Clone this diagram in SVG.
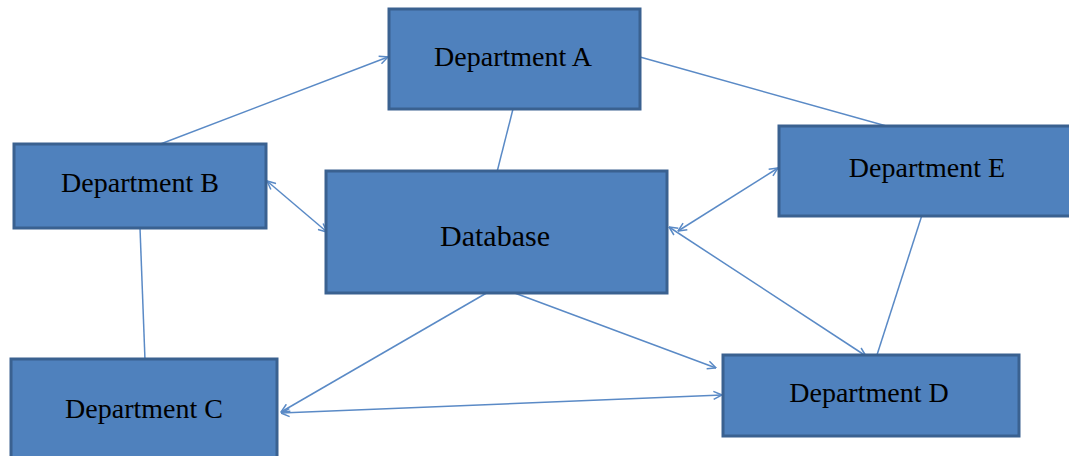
<svg xmlns="http://www.w3.org/2000/svg" width="1069" height="456" viewBox="0 0 1069 456">
<defs>
<style>
.box{fill:#4f81bd;stroke:#3a6190;stroke-width:3}
.lbl{font-family:"Liberation Serif","Times New Roman",serif;font-size:28px;fill:#000;text-anchor:middle}
.big{font-size:30px}
.con{stroke:#5a8ac6;stroke-width:1.5;fill:none}
</style>
<marker id="arr" viewBox="0 0 10 10" refX="9.5" refY="5" markerWidth="10" markerHeight="10" markerUnits="userSpaceOnUse" orient="auto-start-reverse">
<path d="M1,1 L9.5,5 L1,9" fill="none" stroke="#5a8ac6" stroke-width="1.5"/>
</marker>
</defs>
<rect width="1069" height="456" fill="#fff"/>
<g id="connectors">
<line class="con" x1="150" y1="148" x2="388" y2="57" marker-end="url(#arr)"/>
<line class="con" x1="513" y1="109" x2="497" y2="172"/>
<line class="con" x1="640" y1="57" x2="890" y2="127"/>
<line class="con" x1="267" y1="181" x2="327" y2="232" marker-start="url(#arr)" marker-end="url(#arr)"/>
<line class="con" x1="140" y1="228" x2="145" y2="360"/>
<line class="con" x1="778" y1="168" x2="678" y2="231" marker-start="url(#arr)" marker-end="url(#arr)"/>
<line class="con" x1="669" y1="227" x2="866" y2="356" marker-start="url(#arr)" marker-end="url(#arr)"/>
<line class="con" x1="922" y1="215" x2="876" y2="358"/>
<line class="con" x1="512" y1="292" x2="716" y2="368" marker-end="url(#arr)"/>
<line class="con" x1="490" y1="291" x2="281" y2="412" marker-end="url(#arr)"/>
<line class="con" x1="281" y1="413" x2="722" y2="395" marker-start="url(#arr)" marker-end="url(#arr)"/>
</g>
<g id="deptA"><rect class="box" x="389" y="9" width="251" height="100"/><text class="lbl" x="513" y="66">Department A</text></g>
<g id="deptB"><rect class="box" x="14" y="144" width="252" height="84"/><text class="lbl" x="140" y="192">Department B</text></g>
<g id="database"><rect class="box" x="326" y="171" width="341" height="122"/><text class="lbl big" x="495" y="246">Database</text></g>
<g id="deptE"><rect class="box" x="779" y="126" width="295" height="90"/><text class="lbl" x="927" y="177">Department E</text></g>
<g id="deptC"><rect class="box" x="11" y="359" width="266" height="105"/><text class="lbl" x="144" y="418">Department C</text></g>
<g id="deptD"><rect class="box" x="723" y="355" width="296" height="81"/><text class="lbl" x="869" y="402">Department D</text></g>
</svg>
